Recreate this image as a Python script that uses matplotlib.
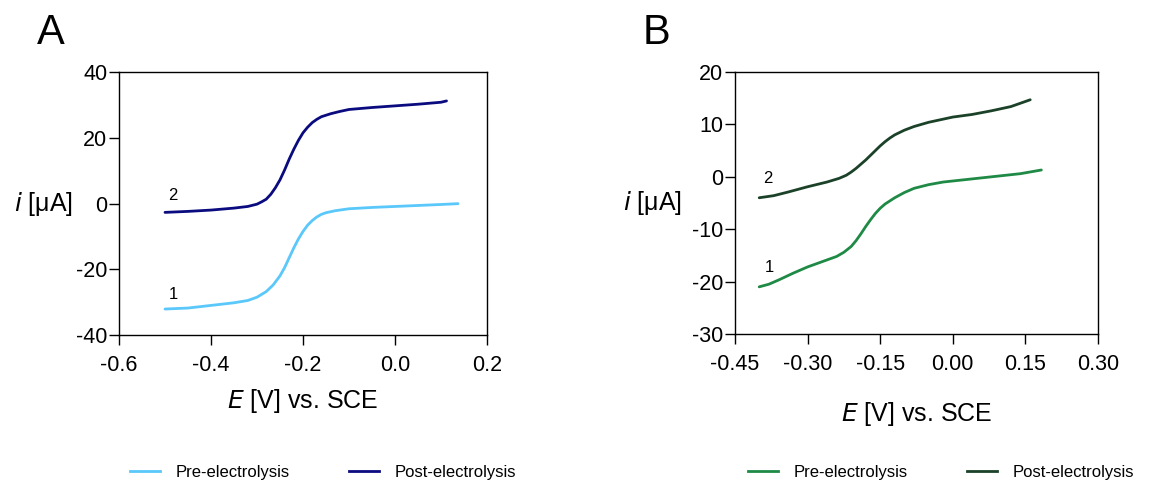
import matplotlib
matplotlib.use("Agg")
import matplotlib.pyplot as plt
from matplotlib.lines import Line2D

plt.rcParams['font.family'] = ['Liberation Sans', 'DejaVu Sans']
plt.rcParams['axes.unicode_minus'] = False

# Panel A: voltammograms before and after electrolysis
a_pre_E = [-0.50, -0.45, -0.40, -0.35, -0.32, -0.30, -0.28, -0.265, -0.25, -0.24,
           -0.23, -0.22, -0.21, -0.20, -0.19, -0.18, -0.17, -0.16, -0.15, -0.13,
           -0.10, -0.05, 0.00, 0.05, 0.10, 0.137]
a_pre_i = [-32.1, -31.8, -31.0, -30.2, -29.5, -28.5, -26.8, -24.8, -22.0, -19.5,
           -16.5, -13.5, -10.8, -8.5, -6.6, -5.2, -4.1, -3.3, -2.8, -2.2,
           -1.6, -1.2, -0.9, -0.6, -0.3, -0.05]
a_post_E = [-0.50, -0.45, -0.40, -0.35, -0.32, -0.30, -0.29, -0.28, -0.27, -0.26,
            -0.25, -0.24, -0.23, -0.22, -0.21, -0.20, -0.19, -0.18, -0.17, -0.16,
            -0.14, -0.12, -0.10, -0.05, 0.00, 0.05, 0.10, 0.112]
a_post_i = [-2.7, -2.4, -2.0, -1.4, -0.9, -0.2, 0.5, 1.3, 2.8, 4.8,
            7.2, 10.2, 13.5, 16.5, 19.2, 21.5, 23.2, 24.6, 25.6, 26.4,
            27.3, 28.0, 28.6, 29.2, 29.7, 30.2, 30.8, 31.2]

# Panel B
b_pre_E = [-0.40, -0.38, -0.36, -0.33, -0.30, -0.27, -0.24, -0.225, -0.21, -0.20,
           -0.19, -0.18, -0.17, -0.16, -0.15, -0.14, -0.12, -0.10, -0.08, -0.05,
           -0.02, 0.02, 0.06, 0.10, 0.14, 0.183]
b_pre_i = [-21.0, -20.5, -19.7, -18.4, -17.2, -16.2, -15.2, -14.4, -13.3, -12.2,
           -10.9, -9.5, -8.2, -7.0, -6.0, -5.2, -4.0, -3.0, -2.2, -1.5,
           -1.0, -0.6, -0.2, 0.2, 0.6, 1.3]
b_post_E = [-0.40, -0.37, -0.34, -0.30, -0.26, -0.235, -0.22, -0.21, -0.20, -0.19,
            -0.18, -0.17, -0.16, -0.15, -0.14, -0.13, -0.12, -0.10, -0.08, -0.05,
            -0.02, 0.00, 0.04, 0.08, 0.12, 0.16]
b_post_i = [-4.0, -3.6, -2.9, -1.9, -1.0, -0.3, 0.3, 0.9, 1.6, 2.4,
            3.2, 4.1, 5.0, 5.9, 6.7, 7.4, 8.0, 8.9, 9.6, 10.4,
            11.0, 11.4, 11.9, 12.6, 13.4, 14.7]

a_xticks = [-0.6, -0.4, -0.2, 0.0, 0.2]
a_yticks = [-40, -20, 0, 20, 40]
b_xticks = [-0.45, -0.30, -0.15, 0.00, 0.15, 0.30]
b_yticks = [-30, -20, -10, 0, 10, 20]

series_names = ["Pre-electrolysis", "Post-electrolysis"]
a_colors = ["#5ac8fa", "#0b0b80"]
b_colors = ["#1f8a45", "#1b4229"]

W, H = 1168, 486
fig = plt.figure(figsize=(W / 100, H / 100), dpi=100)


def px_axes(l, t, r, b):
    return fig.add_axes([l / W, 1 - b / H, (r - l) / W, (b - t) / H])


def style(ax, xticks, yticks, xfmt, ylab_x, xlab_y):
    ax.set_xlim(xticks[0], xticks[-1])
    ax.set_ylim(yticks[0], yticks[-1])
    ax.set_xticks(xticks)
    ax.set_yticks(yticks)
    ax.set_xticklabels([xfmt.format(v) for v in xticks])
    ax.set_yticklabels([str(v) for v in yticks])
    ax.tick_params(axis='both', direction='out', length=7.5, width=1,
                   labelsize=15.5, color='black')
    ax.tick_params(axis='y', pad=1)
    ax.tick_params(axis='x', pad=7)
    for s in ax.spines.values():
        s.set_linewidth(1)
        s.set_color('black')
    ax.set_ylabel(r"$i$ [μA]", rotation=0, fontsize=18, ha='right', va='center')
    ax.yaxis.set_label_coords(ylab_x, 0.5)
    ax.set_xlabel(r"$E$ [V] vs. SCE", fontsize=18, va='center')
    ax.xaxis.set_label_coords(0.5, xlab_y)


axA = px_axes(119, 72, 487, 335)
axA.plot(a_pre_E, a_pre_i, color=a_colors[0], lw=2, solid_capstyle='round')
axA.plot(a_post_E, a_post_i, color=a_colors[1], lw=2, solid_capstyle='round')
style(axA, a_xticks, a_yticks, "{:.1f}", -0.125, -0.25)
axA.text(-0.484, 2.3, "2", fontsize=12, ha='center', va='center')
axA.text(-0.482, -27.8, "1", fontsize=12, ha='center', va='center')
fig.text(51 / W, 1 - 33 / H, "A", fontsize=30, ha='center', va='center')

axB = px_axes(735, 72, 1098, 334)
axB.plot(b_pre_E, b_pre_i, color=b_colors[0], lw=2, solid_capstyle='round')
axB.plot(b_post_E, b_post_i, color=b_colors[1], lw=2, solid_capstyle='round')
style(axB, b_xticks, b_yticks, "{:.2f}", -0.145, -0.305)
axB.text(-0.382, -0.3, "2", fontsize=12, ha='center', va='center')
axB.text(-0.380, -17.4, "1", fontsize=12, ha='center', va='center')
fig.text(656 / W, 1 - 33 / H, "B", fontsize=30, ha='center', va='center')


def add_legend(colors, cx):
    handles = [Line2D([], [], color=c, lw=2) for c in colors]
    fig.legend(handles, series_names, loc='center', bbox_to_anchor=(cx, 1 - 472 / H),
               ncol=2, frameon=False, fontsize=12, handlelength=1.8,
               handletextpad=0.9, columnspacing=3.6)


add_legend(a_colors, 323 / W)
add_legend(b_colors, 941 / W)

fig.savefig("out.png", dpi=100)
